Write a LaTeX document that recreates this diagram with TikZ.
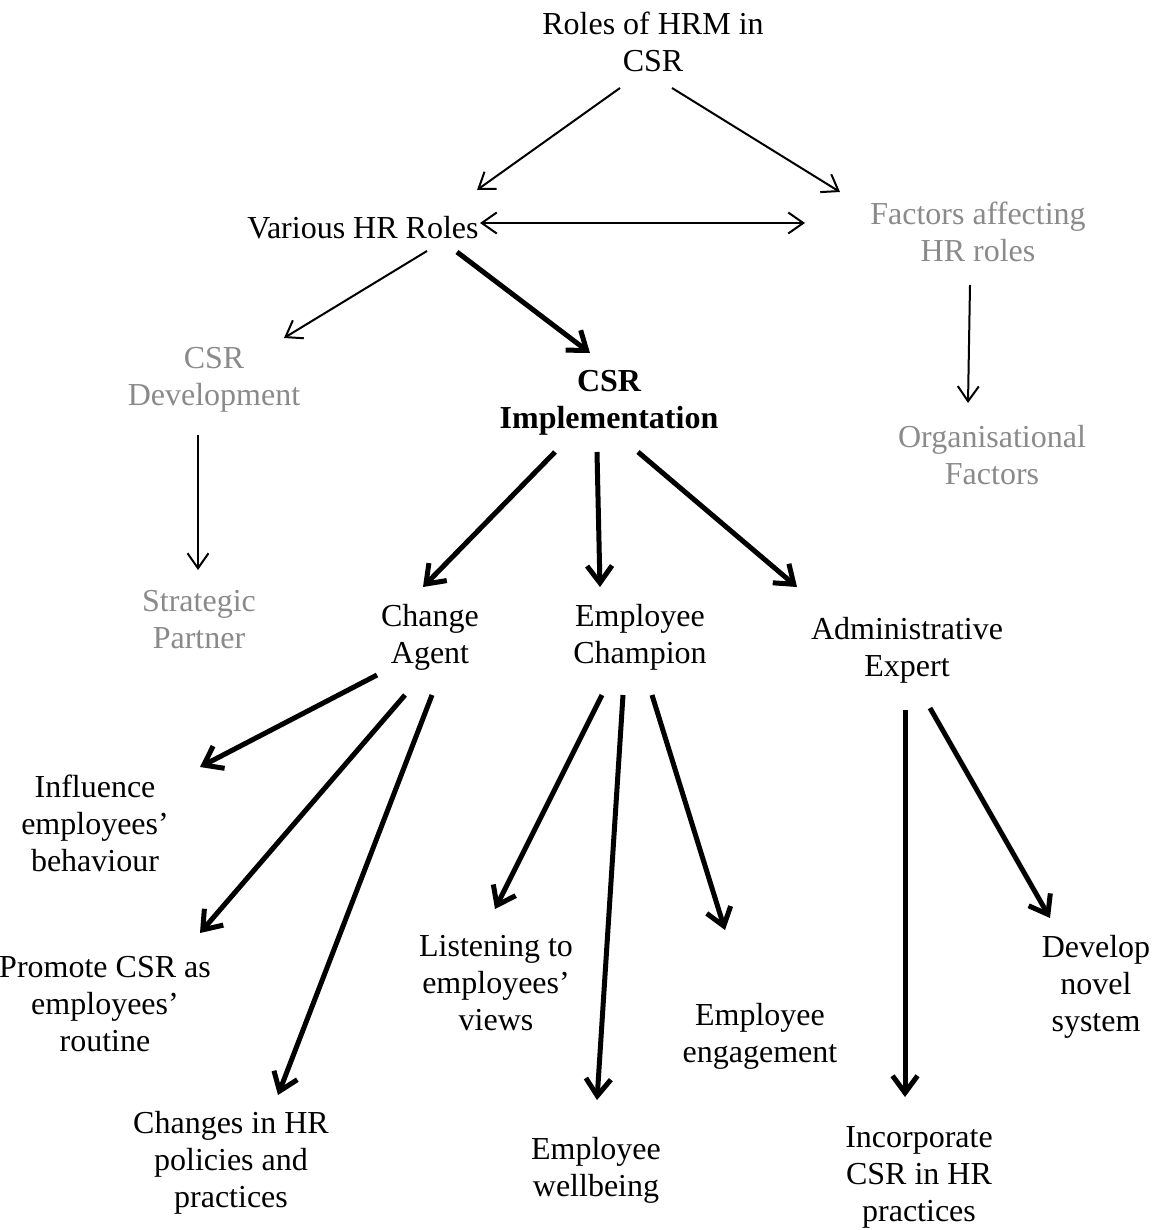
\documentclass[tikz,border=0pt]{standalone}
\usepackage{fontspec}
\setmainfont{Liberation Serif}
\usetikzlibrary{arrows.meta,calc}
\definecolor{softgray}{HTML}{8A8A8A}
\tikzset{
  lbl/.style={align=center, inner sep=0pt, font=\fontsize{32}{37}\selectfont},
  faded/.style={lbl, text=softgray},
  thinarrow/.style={line width=2pt, -{Straight Barb[length=15pt,width=21pt,line width=2pt]}},
  twoway/.style={line width=2pt, {Straight Barb[length=15pt,width=21pt,line width=2pt]}-{Straight Barb[length=15pt,width=21pt,line width=2pt]}},
  heavyarrow/.style={line width=5pt, -{Straight Barb[length=17pt,width=25pt,line width=5pt]},
    preaction={draw=black!18, transform canvas={shift={(1.5,2)}}}}
}
\begin{document}
\begin{tikzpicture}[x=1pt,y=-1pt]
\useasboundingbox (0,0) rectangle (1157,1230);

% labels
\node[lbl]   (roles)       at (653,42)   {Roles of HRM in\\CSR};
\node[lbl]   (various)     at (363,228)  {Various HR Roles};
\node[faded] (factors)     at (978,232)  {Factors affecting\\HR roles};
\node[faded] (csrdev)      at (214,380)  {CSR\\Development};
\node[lbl,font=\fontsize{32}{37}\selectfont\bfseries] (csrimp) at (609,403) {CSR\\Implementation};
\node[faded] (org)         at (992,455)  {Organisational\\Factors};
\node[faded] (strategic)   at (199,620)  {Strategic\\Partner};
\node[lbl]   (change)      at (430,637)  {Change\\Agent};
\node[lbl]   (champion)    at (640,637)  {Employee\\Champion};
\node[lbl]   (admin)       at (907,650)  {Administrative\\Expert};
\node[lbl]   (influence)   at (95,823)   {Influence\\employees’\\behaviour};
\node[lbl]   (promote)     at (105,1004) {Promote CSR as\\employees’\\routine};
\node[lbl]   (changes)     at (231,1163) {Changes in HR\\policies and\\practices};
\node[lbl]   (listening)   at (496,983)  {Listening to\\employees’\\views};
\node[lbl]   (wellbeing)   at (596,1170) {Employee\\wellbeing};
\node[lbl]   (engagement)  at (760,1036) {Employee\\engagement};
\node[lbl]   (incorporate) at (919,1177) {Incorporate\\CSR in HR\\practices};
\node[lbl]   (develop)     at (1096,987) {Develop\\novel\\system};

% thin connectors
\draw[thinarrow] ($(roles)+(-33,46)$) -- ($(various)+(114,-38)$);
\draw[thinarrow] ($(roles)+(19,46)$) -- ($(factors)+(-138,-40)$);
\draw[twoway] ($(various)+(117,-5)$) -- ($(factors)+(-173,-9)$);
\draw[thinarrow] ($(various)+(64,23)$) -- ($(csrdev)+(70,-42)$);
\draw[thinarrow] ($(csrdev)+(-16,55)$) -- ($(strategic)+(-1,-50)$);
\draw[thinarrow] ($(factors)+(-8,53)$) -- ($(org)+(-24,-52)$);

% heavy connectors
\draw[heavyarrow] ($(various)+(94,24)$) -- ($(csrimp)+(-19,-50)$);
\draw[heavyarrow] ($(csrimp)+(-54,49)$) -- ($(change)+(-7,-50)$);
\draw[heavyarrow] ($(csrimp)+(-12,49)$) -- ($(champion)+(-40,-50)$);
\draw[heavyarrow] ($(csrimp)+(29,49)$) -- ($(admin)+(-110,-63)$);
\draw[heavyarrow] ($(change)+(-53,38)$) -- ($(influence)+(105,-56)$);
\draw[heavyarrow] ($(change)+(-25,58)$) -- ($(promote)+(95,-71)$);
\draw[heavyarrow] ($(change)+(2,58)$) -- ($(changes)+(47,-68)$);
\draw[heavyarrow] ($(champion)+(-38,58)$) -- ($(listening)+(-1,-74)$);
\draw[heavyarrow] ($(champion)+(-17,58)$) -- ($(wellbeing)+(1,-70)$);
\draw[heavyarrow] ($(champion)+(12,58)$) -- ($(engagement)+(-35,-106)$);
\draw[heavyarrow] ($(admin)+(-2,60)$) -- ($(incorporate)+(-14,-80)$);
\draw[heavyarrow] ($(admin)+(23,58)$) -- ($(develop)+(-46,-69)$);
\end{tikzpicture}
\end{document}
